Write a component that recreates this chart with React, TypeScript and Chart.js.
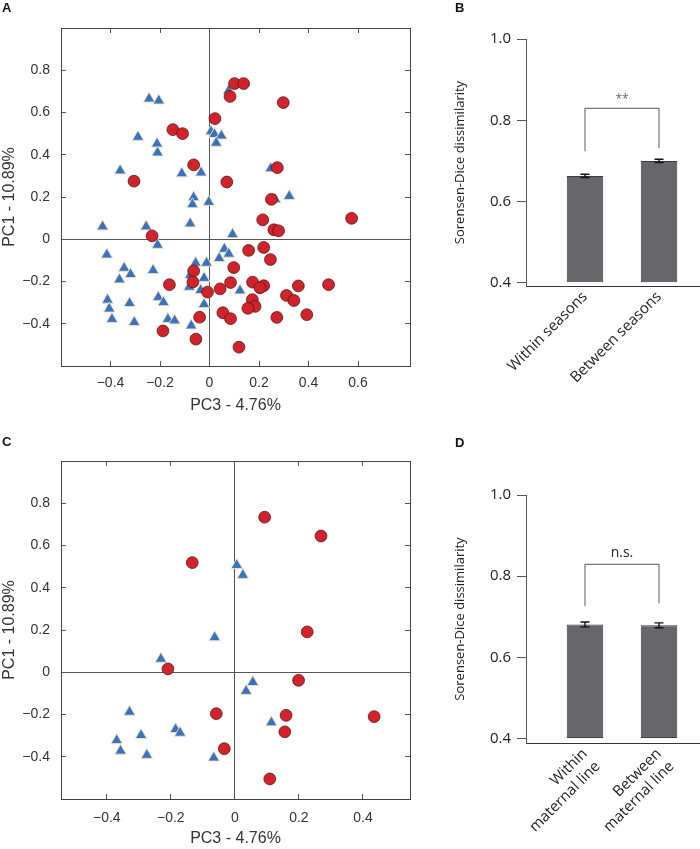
import React, { useEffect, useRef } from 'react';
import { Chart, registerables } from 'chart.js';

Chart.register(...registerables);

// ---------- Panel A (PCoA, all samples) ----------
const A_RED: [number, number][] = [
  [0.101, 0.737], [0.138, 0.737], [0.083, 0.676], [0.298, 0.647], [0.022, 0.571],
  [-0.148, 0.519], [-0.109, 0.5], [-0.064, 0.352], [-0.305, 0.275], [0.07, 0.271],
  [0.274, 0.339], [0.25, 0.189], [0.215, 0.092], [0.574, 0.099], [0.26, 0.045],
  [0.279, 0.04], [-0.232, 0.016], [0.158, -0.053], [0.219, -0.039], [0.246, -0.096],
  [0.098, -0.134], [-0.064, -0.15], [-0.067, -0.202], [-0.162, -0.215], [-0.008, -0.25],
  [0.043, -0.235], [0.085, -0.205], [0.174, -0.203], [0.219, -0.22], [0.204, -0.23],
  [0.173, -0.286], [0.184, -0.318], [0.155, -0.327], [0.311, -0.266], [0.341, -0.29],
  [0.359, -0.221], [0.481, -0.215], [0.393, -0.357], [0.272, -0.37], [0.054, -0.348],
  [0.085, -0.376], [-0.04, -0.369], [-0.188, -0.434], [-0.055, -0.473], [0.119, -0.511],
];
const A_BLUE: [number, number][] = [
  [-0.244, 0.665], [-0.205, 0.656], [-0.289, 0.484], [-0.212, 0.452], [-0.21, 0.41],
  [-0.361, 0.325], [-0.112, 0.311], [-0.034, 0.315], [0.006, 0.51], [0.02, 0.497],
  [0.048, 0.49], [0.027, 0.456], [0.077, 0.703], [-0.064, 0.198], [-0.069, 0.165],
  [-0.003, 0.176], [-0.078, 0.074], [-0.432, 0.06], [-0.256, 0.06], [-0.21, -0.027],
  [-0.415, -0.073], [0.093, 0.023], [0.06, -0.046], [0.078, -0.069], [0.039, -0.09],
  [-0.345, -0.136], [-0.319, -0.166], [-0.364, -0.191], [-0.228, -0.147], [-0.056, -0.112],
  [-0.012, -0.112], [-0.022, -0.184], [-0.078, -0.17], [-0.082, -0.226], [-0.036, -0.241],
  [0.123, -0.243], [-0.412, -0.287], [-0.405, -0.329], [-0.323, -0.303], [-0.207, -0.275],
  [-0.186, -0.299], [-0.022, -0.308], [-0.394, -0.378], [-0.304, -0.393], [-0.168, -0.378],
  [-0.141, -0.385], [-0.074, -0.409], [0.247, 0.335], [0.322, 0.204], [0.266, 0.188],
  [0.338, -0.289],
];
const A_X_TICKS = [-0.4, -0.2, 0, 0.2, 0.4, 0.6];
const A_Y_TICKS = [-0.4, -0.2, 0, 0.2, 0.4, 0.6, 0.8];

// ---------- Panel C (PCoA, subset) ----------
const C_RED: [number, number][] = [
  [0.093, 0.734], [0.269, 0.645], [-0.133, 0.519], [0.226, 0.191], [-0.209, 0.016],
  [0.199, -0.038], [-0.058, -0.196], [0.16, -0.204], [0.156, -0.282], [0.435, -0.21],
  [-0.033, -0.362], [0.109, -0.505],
];
const C_BLUE: [number, number][] = [
  [0.006, 0.507], [0.025, 0.46], [-0.063, 0.165], [-0.231, 0.063], [0.056, -0.047],
  [0.035, -0.089], [0.114, -0.238], [-0.329, -0.188], [-0.369, -0.322], [-0.357, -0.372],
  [-0.293, -0.298], [-0.275, -0.392], [-0.185, -0.27], [-0.171, -0.287], [-0.066, -0.405],
];
const C_X_TICKS = [-0.4, -0.2, 0, 0.2, 0.4];
const C_Y_TICKS = [-0.4, -0.2, 0, 0.2, 0.4, 0.6, 0.8];

const PC_X_TITLE = 'PC3 - 4.76%';
const PC_Y_TITLE = 'PC1 - 10.89%';

// ---------- Panel B ----------
const B_CATEGORIES = ['Within seasons', 'Between seasons'];
const B_MEANS = [0.663, 0.7];
const B_ERRORS = [0.004, 0.004];
const B_BRACKET = [0.724, 0.829, 0.829, 0.732];
const B_SIG = '**';
const B_SIG_Y = 0.852;

// ---------- Panel D ----------
const D_CATEGORIES = [['Within', 'maternal line'], ['Between', 'maternal line']];
const D_MEANS = [0.681, 0.679];
const D_ERRORS = [0.006, 0.006];
const D_BRACKET = [0.727, 0.829, 0.829, 0.733];
const D_SIG = 'n.s.';
const D_SIG_Y = 0.856;

const BAR_Y_TICKS = [0.4, 0.6, 0.8, 1.0];
const BAR_Y_TITLE = 'Sorensen-Dice dissimilarity';

const SANS = '"Liberation Sans", Arial, Helvetica, sans-serif';
const HUMAN = '"Open Sans", "Noto Sans", sans-serif';

const fmtPC = (v: number) =>
  v === 0 ? '0' : (v < 0 ? '\u2212' : '') + Math.abs(v).toFixed(1);

function scatterConfig(
  red: [number, number][],
  blue: [number, number][],
  xTicks: number[],
  yTicks: number[],
  xr: [number, number],
  yr: [number, number],
  geo: { top: number; xHeight: number; xPad: number; titleBottom: number }
): any {
  const setX = (s: any) => {
    s.ticks = xTicks.map((v) => ({ value: v }));
  };
  const setY = (s: any) => {
    s.ticks = yTicks.map((v) => ({ value: v }));
  };
  const zeroGrid = {
    drawOnChartArea: true,
    color: (c: any) => (c.tick && c.tick.value === 0 ? '#555' : 'rgba(0,0,0,0)'),
    tickColor: '#555',
    tickLength: -5,
    lineWidth: 1,
  };
  const edgeGrid = { drawOnChartArea: false, tickColor: '#555', tickLength: -5, lineWidth: 1 };
  const border = { display: true, color: '#444', width: 1 };
  const tickFont = { family: SANS, size: 14 };
  const titleFont = { family: SANS, size: 16 };
  return {
    type: 'scatter',
    data: {
      datasets: [
        {
          label: 'circles',
          data: red.map(([x, y]) => ({ x, y })),
          pointStyle: 'circle',
          pointRadius: 5.9,
          backgroundColor: '#d1232a',
          borderColor: '#5a1315',
          borderWidth: 0.8,
        },
        {
          label: 'triangles',
          data: blue.map(([x, y]) => ({ x, y })),
          pointStyle: 'triangle',
          pointRadius: 6.6,
          backgroundColor: '#3b71bd',
          borderColor: '#ebe5c3',
          borderWidth: 0.9,
        },
      ],
    },
    options: {
      responsive: false,
      animation: false,
      events: [],
      layout: { padding: { left: 0, right: 20, top: geo.top, bottom: 0 } },
      plugins: { legend: { display: false }, tooltip: { enabled: false } },
      scales: {
        x: {
          type: 'linear',
          position: 'bottom',
          min: xr[0],
          max: xr[1],
          afterBuildTicks: setX,
          afterFit: (s: any) => {
            s.height = geo.xHeight;
          },
          ticks: { callback: (v: any) => fmtPC(v), font: tickFont, color: '#333', padding: geo.xPad, maxRotation: 0, autoSkip: false },
          grid: zeroGrid,
          border,
          title: { display: true, text: PC_X_TITLE, font: titleFont, color: '#333', padding: { top: 0, bottom: geo.titleBottom } },
        },
        x2: {
          type: 'linear',
          position: 'top',
          min: xr[0],
          max: xr[1],
          afterBuildTicks: setX,
          afterFit: (s: any) => {
            s.height = 0;
          },
          ticks: { display: false },
          grid: edgeGrid,
          border,
        },
        y: {
          type: 'linear',
          position: 'left',
          min: yr[0],
          max: yr[1],
          afterBuildTicks: setY,
          afterFit: (s: any) => {
            s.width = 61;
          },
          ticks: { callback: (v: any) => fmtPC(v), font: tickFont, color: '#333', padding: 16, autoSkip: false },
          grid: zeroGrid,
          border,
          title: { display: true, text: PC_Y_TITLE, font: titleFont, color: '#333', padding: { top: 0, bottom: 0 } },
        },
        y2: {
          type: 'linear',
          position: 'right',
          min: yr[0],
          max: yr[1],
          afterBuildTicks: setY,
          afterFit: (s: any) => {
            s.width = 0;
          },
          ticks: { display: false },
          grid: edgeGrid,
          border,
        },
      },
    },
  };
}

const barExtrasPlugin = {
  id: 'barExtras',
  afterDatasetsDraw(chart: any, _args: any, opts: any) {
    const ctx = chart.ctx;
    const ys = chart.scales.y;
    const xs = chart.scales.x;
    const meta = chart.getDatasetMeta(0);
    const values = chart.data.datasets[0].data;
    ctx.save();
    ctx.strokeStyle = '#111';
    ctx.lineWidth = 1.4;
    meta.data.forEach((bar: any, i: number) => {
      const v = values[i].y;
      const e = opts.errors[i];
      const t = ys.getPixelForValue(v + e);
      const b = ys.getPixelForValue(v - e);
      const cap = 4.5;
      ctx.beginPath();
      ctx.moveTo(bar.x, t);
      ctx.lineTo(bar.x, b);
      ctx.moveTo(bar.x - cap, t);
      ctx.lineTo(bar.x + cap, t);
      ctx.moveTo(bar.x - cap, b);
      ctx.lineTo(bar.x + cap, b);
      ctx.stroke();
    });
    ctx.fillStyle = opts.sigColor;
    ctx.font = opts.sigFont;
    ctx.textAlign = 'center';
    ctx.textBaseline = 'middle';
    ctx.fillText(opts.sigText, xs.getPixelForValue(0.5), ys.getPixelForValue(opts.sigY));
    ctx.restore();
  },
};

function barConfig(
  cats: any[],
  means: number[],
  errors: number[],
  bracket: number[],
  sigText: string,
  sigY: number,
  sigFont: string,
  sigColor: string,
  geo: { top: number; xHeight: number; yMin: number }
): any {
  return {
    type: 'bar',
    data: {
      datasets: [
        {
          type: 'bar',
          data: means.map((y, i) => ({ x: i, y })),
          base: 0.4,
          backgroundColor: '#676769',
          borderColor: '#3c3c3c',
          borderWidth: 1,
          borderSkipped: false,
          categoryPercentage: 1,
          barPercentage: 0.493,
        },
        {
          type: 'line',
          data: [
            { x: 0, y: bracket[0] },
            { x: 0, y: bracket[1] },
            { x: 1, y: bracket[2] },
            { x: 1, y: bracket[3] },
          ],
          borderColor: '#777',
          borderWidth: 1.2,
          pointRadius: 0,
          fill: false,
          tension: 0,
        },
      ],
    },
    plugins: [barExtrasPlugin],
    options: {
      responsive: false,
      animation: false,
      events: [],
      layout: { padding: { left: 20, right: 0, top: geo.top, bottom: 0 } },
      plugins: {
        legend: { display: false },
        tooltip: { enabled: false },
        barExtras: { errors, sigText, sigY, sigFont, sigColor },
      },
      scales: {
        x: {
          type: 'linear',
          offset: false,
          min: -0.797,
          max: 1.554,
          afterBuildTicks: (s: any) => {
            s.ticks = cats.map((_c, i) => ({ value: i }));
          },
          afterFit: (s: any) => {
            s.height = geo.xHeight;
          },
          ticks: {
            callback: (v: any) => cats[v],
            minRotation: 45,
            maxRotation: 45,
            autoSkip: false,
            padding: 2,
            font: { family: HUMAN, size: 15 },
            color: '#222',
          },
          grid: { display: false, offset: false, drawTicks: false, tickLength: 0 },
          border: { display: true, color: '#333', width: 1 },
        },
        y: {
          type: 'linear',
          min: geo.yMin,
          max: 1.0,
          afterBuildTicks: (s: any) => {
            s.ticks = BAR_Y_TICKS.map((v) => ({ value: v }));
          },
          afterFit: (s: any) => {
            s.width = 76;
          },
          ticks: {
            callback: (v: any) => Number(v).toFixed(1),
            padding: 6,
            font: { family: HUMAN, size: 15 },
            color: '#222',
          },
          grid: { drawOnChartArea: false, drawTicks: true, tickLength: 9, tickColor: '#555', lineWidth: 1 },
          border: { display: true, color: '#555', width: 1 },
          title: {
            display: true,
            text: BAR_Y_TITLE,
            font: { family: HUMAN, size: 13 },
            color: '#222',
            padding: { top: 2, bottom: 0 },
          },
        },
      },
    },
  };
}

function ChartBox(props: { make: () => any; left: number; top: number; width: number; height: number }) {
  const ref = useRef<HTMLCanvasElement>(null);
  useEffect(() => {
    const chart = new Chart(ref.current as HTMLCanvasElement, props.make());
    return () => chart.destroy();
  }, []);
  return (
    <canvas
      ref={ref}
      width={props.width}
      height={props.height}
      style={{ position: 'absolute', left: props.left, top: props.top, width: props.width, height: props.height }}
    />
  );
}

const letterStyle = (left: number, top: number): React.CSSProperties => ({
  position: 'absolute',
  left,
  top,
  font: `bold 13px ${SANS}`,
  color: '#111',
  lineHeight: '15px',
});

export default function App() {
  return (
    <div style={{ position: 'absolute', left: 0, top: 0, width: 700, height: 849, background: '#fff', overflow: 'hidden' }}>
      <ChartBox
        left={0}
        top={0}
        width={430}
        height={420}
        make={() =>
          scatterConfig(A_RED, A_BLUE, A_X_TICKS, A_Y_TICKS, [-0.6, 0.81], [-0.6, 1.0], {
            top: 28,
            xHeight: 54,
            xPad: 14,
            titleBottom: 5,
          })
        }
      />
      <ChartBox
        left={0}
        top={420}
        width={430}
        height={429}
        make={() =>
          scatterConfig(C_RED, C_BLUE, C_X_TICKS, C_Y_TICKS, [-0.543, 0.547], [-0.6, 1.0], {
            top: 41,
            xHeight: 50,
            xPad: 16,
            titleBottom: 1,
          })
        }
      />
      <ChartBox
        left={430}
        top={0}
        width={270}
        height={420}
        make={() =>
          barConfig(B_CATEGORIES, B_MEANS, B_ERRORS, B_BRACKET, B_SIG, B_SIG_Y, `12px ${HUMAN}`, '#666', {
            top: 39,
            xHeight: 134,
            yMin: 0.392,
          })
        }
      />
      <ChartBox
        left={430}
        top={420}
        width={270}
        height={429}
        make={() =>
          barConfig(D_CATEGORIES, D_MEANS, D_ERRORS, D_BRACKET, D_SIG, D_SIG_Y, `14px ${HUMAN}`, '#222', {
            top: 75,
            xHeight: 106,
            yMin: 0.389,
          })
        }
      />
      <div style={letterStyle(2, 0)}>A</div>
      <div style={letterStyle(455, 0)}>B</div>
      <div style={letterStyle(2, 434)}>C</div>
      <div style={letterStyle(455, 435)}>D</div>
    </div>
  );
}
